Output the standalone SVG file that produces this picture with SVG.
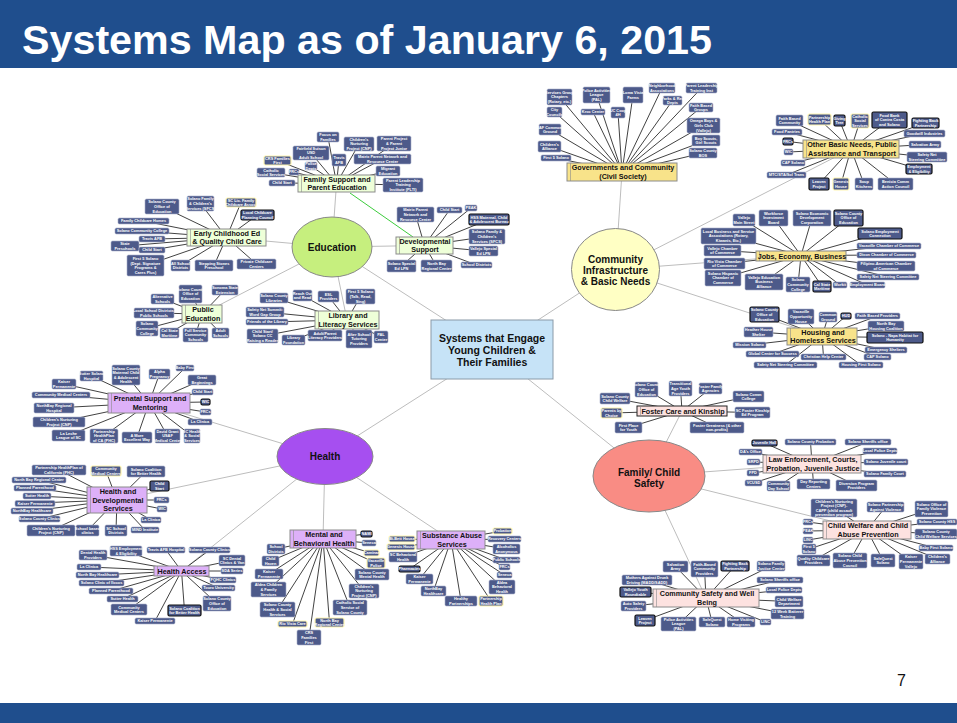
<svg xmlns="http://www.w3.org/2000/svg" width="957" height="723" viewBox="0 0 957 723">
<style>
.lf rect{fill:#4d5a8a;stroke:#a9b0c9;stroke-width:.6}
.lf text{fill:#fff;font-family:"Liberation Sans",Arial,sans-serif;font-weight:bold;font-size:3.9px;text-anchor:middle}
.hl rect{stroke:#fff6b0;stroke-width:1.2}
.bk rect{stroke:#111;stroke-width:1.2}
.hub rect{stroke:#8c8c8c;stroke-width:1}
.hub line{stroke:#8c8c8c;stroke-width:.6}
.hub text{fill:#111;font-family:"Liberation Sans",Arial,sans-serif;font-weight:bold;font-size:7.2px;text-anchor:middle}
.g rect{fill:#eeffd8}.y rect{fill:#f8e38a}.p rect{fill:#ddb0f8}.k rect{fill:#fde2e0}
.big ellipse{stroke:#888;stroke-width:1}
.big text,.ctr text{fill:#111;font-family:"Liberation Sans",Arial,sans-serif;font-weight:bold;font-size:10px;text-anchor:middle}
.ctr text{font-size:10.5px}
.c1{stroke:#bdbdbd;stroke-width:1;fill:none}
.c2{stroke:#111;stroke-width:.8;fill:none}
</style>
<rect x="0" y="0" width="957" height="723" fill="#fff"/>
<rect x="0" y="0" width="957" height="68" fill="#1f4e8d"/>
<text x="22" y="54" fill="#fff" font-family="Liberation Sans, Arial, sans-serif" font-weight="bold" font-size="41" textLength="690" lengthAdjust="spacingAndGlyphs">Systems Map as of January 6, 2015</text>
<rect x="0" y="703" width="957" height="20" fill="#1f4e8d"/>
<text x="897" y="686" fill="#111" font-family="Liberation Sans, Arial, sans-serif" font-size="16">7</text>

<g id="connectors">
<path class="c1" d="M492,350L332,247M492,350L615.5,269.5M492,350L325,456.5M492,350L649,476M332,247L336.5,183.5M332,247L226.5,237.5M332,247L424.5,245.5M332,247L202,314M332,247L347,320M615.5,269.5L622,172M615.5,269.5L851,149M615.5,269.5L801,255.5M615.5,269.5L822,336.5M325,456.5L149,403M325,456.5L117,500M325,456.5L181.5,571M325,456.5L323,539M325,456.5L451,540M649,476L682,411M649,476L812,464M649,476L867,530M649,476L706,598"/>
<path d="M350,193L413,237" stroke="#3dcc3d" stroke-width="1" fill="none"/>
<path class="c2" d="M328,137L336.5,183.5M359,144L336.5,183.5M394,143.5L336.5,183.5M311,153L336.5,183.5M339,160L336.5,183.5M382.5,159L336.5,183.5M311,166L336.5,183.5M277.5,160.5L336.5,183.5M271,172.5L336.5,183.5M294,172L336.5,183.5M282,183L336.5,183.5M388,171L336.5,183.5M403,185L336.5,183.5"/>
<path class="c2" d="M415.5,214.5L424.5,245.5M449.5,210L424.5,245.5M471,208L424.5,245.5M489,219.5L424.5,245.5M487,236.5L424.5,245.5M483.5,251L424.5,245.5M476.5,265L424.5,245.5M436.5,266L424.5,245.5M401.5,266L424.5,245.5"/>
<path class="c2" d="M162,206.5L226.5,237.5M200.5,203.5L226.5,237.5M241,202.5L226.5,237.5M257.5,215L226.5,237.5M143.5,221L226.5,237.5M142,231L226.5,237.5M152,239L226.5,237.5M125,246L226.5,237.5M152,250L226.5,237.5M145.5,265.5L226.5,237.5M180.5,265.5L226.5,237.5M214,265.5L226.5,237.5M256.5,264L226.5,237.5"/>
<path class="c2" d="M190.5,294L202,314M225,290L202,314M162.5,299L202,314M154,313L202,314M147,328.5L202,314M169.5,333L202,314M195.5,335L202,314M220.5,333L202,314"/>
<path class="c2" d="M274,298L347,320M302.5,295.5L347,320M328.5,296.5L347,320M360.5,296.5L347,320M265,312L347,320M267,322L347,320M262.5,336L347,320M293.5,340L347,320M325,335.5L347,320M359,339L347,320M381,337L347,320"/>
<path class="c2" d="M559.5,97L622,172M596.5,95L622,172M633,95L622,172M662,88L622,172M701.5,88L622,172M672.5,100.5L622,172M701,107.5L622,172M554.5,112L622,172M593,112L622,172M618,112.5L622,172M550,129.5L622,172M703.5,125.5L622,172M549.5,146.5L622,172M706,140.5L622,172M556,158L622,172M703,153L622,172"/>
<path class="c2" d="M789.5,120.5L851,149M819.5,119.5L851,149M839.5,120.5L851,149M860,121L851,149M889.5,120L851,149M925.5,123L851,149M787,132L851,149M924.5,133.5L851,149M788,141.5L851,149M788.5,152L851,149M925,144.5L851,149M927,157L851,149M793,163L851,149M786.5,175L851,149M919,169L851,149M819,184L851,149M841,184L851,149M864,184L851,149M895.5,184L851,149"/>
<path class="c2" d="M744,220L801,255.5M773.5,218L801,255.5M812,218L801,255.5M848.5,218L801,255.5M728.5,236L801,255.5M880,233.5L801,255.5M722.5,250.5L801,255.5M889,246L801,255.5M886.5,255L801,255.5M724.5,263.5L801,255.5M886,266L801,255.5M723,278L801,255.5M764,282L801,255.5M798,284.5L801,255.5M822,286.5L801,255.5M840,285L801,255.5M867.5,285L801,255.5M888,277L801,255.5"/>
<path class="c2" d="M764.5,314.5L822,336.5M801,316.5L822,336.5M828,317L822,336.5M846,316L822,336.5M877.5,316L822,336.5M886,326L822,336.5M758.5,332L822,336.5M895,337.5L822,336.5M749.5,345L822,336.5M886,350L822,336.5M772.5,354L822,336.5M823.5,357L822,336.5M877.5,357L822,336.5M785.5,365L822,336.5M861,365L822,336.5"/>
<path class="c2" d="M64,384L149,403M91.5,376L149,403M126,375L149,403M159.5,374L149,403M185,368L149,403M202,380L149,403M202.5,392L149,403M205.5,402L149,403M205.5,412L149,403M200,422L149,403M61,395L149,403M54,408L149,403M59,422L149,403M68.5,435.5L149,403M104,436L149,403M137,437.5L149,403M167.5,436L149,403M192,436L149,403"/>
<path class="c2" d="M59,470L117,500M106,471L117,500M146,471.5L117,500M39,480L117,500M35,488L117,500M37,496L117,500M35,503L117,500M32,511L117,500M39.5,519L117,500M159.5,486L117,500M161.5,500L117,500M162,509L117,500M151,520L117,500M51,530.5L117,500M87.5,530.5L117,500M116,530.5L117,500M145,530L117,500"/>
<path class="c2" d="M93,555L181.5,571M126,551L181.5,571M166,550L181.5,571M209.5,550L181.5,571M232,560.5L181.5,571M89,567L181.5,571M97.5,575L181.5,571M232,571L181.5,571M223,580L181.5,571M101.5,583L181.5,571M111,591L181.5,571M218.5,588L181.5,571M122.5,599L181.5,571M129,609.5L181.5,571M184.5,610.5L181.5,571M217,603.5L181.5,571M155,621L181.5,571"/>
<path class="c2" d="M366.5,534L323,539M369,543L323,539M371.5,553L323,539M376,563L323,539M372,574.5L323,539M364,591L323,539M350,607.5L323,539M329.5,622.5L323,539M309,637.5L323,539M292.5,624L323,539M276,549L323,539M270.5,561L323,539M269,574L323,539M268.5,589.5L323,539M277.5,609.5L323,539"/>
<path class="c2" d="M402,539L451,540M401,547L451,540M403,557L451,540M409.5,569L451,540M419.5,579L451,540M433.5,591L451,540M461,601L451,540M491,601L451,540M502,587L451,540M504.5,575L451,540M504.5,567L451,540M506.5,560L451,540M506.5,549L451,540M504.5,539L451,540M502.5,531L451,540"/>
<path class="c2" d="M615,398.5L682,411M646.5,389.5L682,411M680.5,388.5L682,411M710.5,388.5L682,411M748.5,396.5L682,411M611.5,413L682,411M752.5,412.5L682,411M628.5,427.5L682,411M717,427.5L682,411"/>
<path class="c2" d="M764.5,443L812,464M810.5,442L812,464M868,442L812,464M880,451L812,464M886,462L812,464M885,474L812,464M750.5,452L812,464M753.5,462L812,464M753,473L812,464M753.5,483L812,464M778.5,486L812,464M813.5,484L812,464M856.5,485.5L812,464"/>
<path class="c2" d="M834,508L867,530M885.5,507L867,530M931.5,509L867,530M808,522L867,530M808,531L867,530M808,540L867,530M809,549L867,530M937,522L867,530M936.5,534L867,530M936,548L867,530M813.5,560.5L867,530M850,560.5L867,530M883,560.5L867,530M911,561.5L867,530M937.5,559L867,530"/>
<path class="c2" d="M675.5,566.5L706,598M704.5,569L706,598M735,566L706,598M771,566L706,598M647,580L706,598M780,580L706,598M784,590L706,598M635.5,592L706,598M789,601.5L706,598M633.5,606L706,598M787.5,614L706,598M645,620.5L706,598M678.5,624L706,598M712,622L706,598M741,622L706,598M765.5,622L706,598"/>
</g>

<g id="center" class="ctr"><rect x="431" y="320" width="122" height="59" fill="#c6e3f7" stroke="#8a9aa8" stroke-width="1"/><text x="492" y="342">Systems that Engage<tspan x="492" dy="12">Young Children &amp;</tspan><tspan x="492" dy="12">Their Families</tspan></text></g>
<g id="education" class="big"><ellipse cx="332" cy="247" rx="40" ry="30" fill="#c6ef7e"/><text x="332" y="250.5">Education</text></g>
<g id="community" class="big"><ellipse cx="615.5" cy="269.5" rx="44" ry="41" fill="#ffffc4"/><text x="615.5" y="262.5">Community<tspan x="615.5" dy="11">Infrastructure</tspan><tspan x="615.5" dy="11">&amp; Basic Needs</tspan></text></g>
<g id="health" class="big"><ellipse cx="325" cy="456.5" rx="48" ry="28" fill="#a64ff0"/><text x="325" y="460">Health</text></g>
<g id="family" class="big"><ellipse cx="649" cy="476" rx="56" ry="36" fill="#f98c84"/><text x="649" y="475.5">Family/ Child<tspan x="649" dy="11">Safety</tspan></text></g>

<g id="hub-fs" class="hub g"><rect x="298" y="175" width="77" height="17"/><line x1="301.5" y1="175" x2="301.5" y2="192"/><text x="337" y="181.9">Family Support and<tspan x="337" dy="8.2">Parent Education</tspan></text></g>
<g id="hub-ds" class="hub g"><rect x="396" y="237" width="57" height="17"/><line x1="399.5" y1="237" x2="399.5" y2="254"/><text x="425" y="243.9">Developmental<tspan x="425" dy="8.2">Support</tspan></text></g>
<g id="hub-ec" class="hub g"><rect x="187" y="229" width="79" height="17"/><line x1="190.5" y1="229" x2="190.5" y2="246"/><text x="227" y="235.9">Early Childhood Ed<tspan x="227" dy="8.2">&amp; Quality Child Care</tspan></text></g>
<g id="hub-pe" class="hub g"><rect x="182" y="305" width="40" height="18"/><line x1="185.5" y1="305" x2="185.5" y2="323"/><text x="203" y="312.4">Public<tspan x="203" dy="8.2">Education</tspan></text></g>
<g id="hub-ll" class="hub g"><rect x="315" y="311" width="64" height="18"/><line x1="318.5" y1="311" x2="318.5" y2="329"/><text x="348" y="318.4">Library and<tspan x="348" dy="8.2">Literacy Services</tspan></text></g>
<g id="hub-gc" class="hub y"><rect x="567" y="163" width="110" height="18"/><line x1="570.5" y1="163" x2="570.5" y2="181"/><text x="623" y="170.4">Governments and Community<tspan x="623" dy="8.2">(Civil Society)</tspan></text></g>
<g id="hub-ob" class="hub y"><rect x="803" y="140" width="96" height="18"/><line x1="806.5" y1="140" x2="806.5" y2="158"/><text x="852" y="147.4">Other Basic Needs, Public<tspan x="852" dy="8.2">Assistance and Transport</tspan></text></g>
<g id="hub-je" class="hub y"><rect x="756" y="251" width="90" height="10"/><line x1="759.5" y1="251" x2="759.5" y2="261"/><text x="802" y="258.6">Jobs, Economy, Business</text></g>
<g id="hub-hh" class="hub y"><rect x="787" y="328" width="70" height="17"/><line x1="790.5" y1="328" x2="790.5" y2="345"/><text x="823" y="334.9">Housing and<tspan x="823" dy="8.2">Homeless Services</tspan></text></g>
<g id="hub-ps" class="hub p"><rect x="108" y="393" width="82" height="20"/><line x1="111.5" y1="393" x2="111.5" y2="413"/><text x="150" y="401.4">Prenatal Support and<tspan x="150" dy="8.2">Mentoring</tspan></text></g>
<g id="hub-hd" class="hub p"><rect x="87" y="487" width="60" height="26"/><line x1="90.5" y1="487" x2="90.5" y2="513"/><text x="118" y="494.3">Health and<tspan x="118" dy="8.2">Developmental</tspan><tspan x="118" dy="8.2">Services</tspan></text></g>
<g id="hub-ha" class="hub p"><rect x="154" y="566" width="55" height="10"/><line x1="157.5" y1="566" x2="157.5" y2="576"/><text x="182" y="573.6">Health Access</text></g>
<g id="hub-mb" class="hub p"><rect x="290" y="530" width="66" height="18"/><line x1="293.5" y1="530" x2="293.5" y2="548"/><text x="324" y="537.4">Mental and<tspan x="324" dy="8.2">Behavioral Health</tspan></text></g>
<g id="hub-sa" class="hub p"><rect x="417" y="531" width="68" height="18"/><line x1="420.5" y1="531" x2="420.5" y2="549"/><text x="452" y="538.4">Substance Abuse<tspan x="452" dy="8.2">Services</tspan></text></g>
<g id="hub-fc" class="hub k"><rect x="637" y="406" width="90" height="10" style="stroke:#222"/><line x1="640.5" y1="406" x2="640.5" y2="416"/><text x="683" y="413.6">Foster Care and Kinship</text></g>
<g id="hub-le" class="hub k"><rect x="763" y="455" width="98" height="18"/><line x1="766.5" y1="455" x2="766.5" y2="473"/><text x="813" y="462.4">Law Enforcement, Courts,<tspan x="813" dy="8.2">Probation, Juvenile Justice</tspan></text></g>
<g id="hub-cw" class="hub k"><rect x="823" y="521" width="88" height="18"/><line x1="826.5" y1="521" x2="826.5" y2="539"/><text x="868" y="528.4">Child Welfare and Child<tspan x="868" dy="8.2">Abuse Prevention</tspan></text></g>
<g id="hub-cs" class="hub k"><rect x="653" y="589" width="106" height="18"/><line x1="656.5" y1="589" x2="656.5" y2="607"/><text x="707" y="596.4">Community Safety and Well<tspan x="707" dy="8.2">Being</tspan></text></g>

<g id="fs-1" class="lf"><rect x="317" y="132" width="22" height="10" rx="1.5"/><text x="328" y="136.1">Focus on<tspan x="328" dy="4.6">Families</tspan></text></g>
<g id="fs-2" class="lf"><rect x="344" y="137" width="30" height="14" rx="1.5"/><text x="359" y="140.8">Children's<tspan x="359" dy="4.6">Nurturing</tspan><tspan x="359" dy="4.6">Project (CNP)</tspan></text></g>
<g id="fs-3" class="lf"><rect x="377" y="136" width="34" height="15" rx="1.5"/><text x="394" y="140.3">Parent Project<tspan x="394" dy="4.6">&amp; Parent</tspan><tspan x="394" dy="4.6">Project Junior</tspan></text></g>
<g id="fs-4" class="lf"><rect x="293" y="146" width="36" height="14" rx="1.5"/><text x="311" y="149.8">Fairfield Suisun<tspan x="311" dy="4.6">USD</tspan><tspan x="311" dy="4.6">Adult School</tspan></text></g>
<g id="fs-5" class="lf"><rect x="332" y="154" width="14" height="12" rx="1.5"/><text x="339" y="159.1">Travis<tspan x="339" dy="4.6">AFB</tspan></text></g>
<g id="fs-6" class="lf"><rect x="354" y="154" width="57" height="10" rx="1.5"/><text x="382.5" y="158.1">Matrix Parent Network and<tspan x="382.5" dy="4.6">Resource Center</tspan></text></g>
<g id="fs-7" class="lf"><rect x="305" y="162" width="12" height="8" rx="1.5"/><text x="311" y="165.1">Police<tspan x="311" dy="4.6">Depts</tspan></text></g>
<g id="fs-8" class="lf hl"><rect x="264" y="156" width="27" height="9" rx="1.5"/><text x="277.5" y="159.6">CRS Families<tspan x="277.5" dy="4.6">First</tspan></text></g>
<g id="fs-9" class="lf"><rect x="257" y="168" width="28" height="9" rx="1.5"/><text x="271" y="171.6">Catholic<tspan x="271" dy="4.6">Social Services</tspan></text></g>
<g id="fs-10" class="lf"><rect x="289" y="169" width="10" height="6" rx="1.5"/><text x="294" y="173.4">FRCs</text></g>
<g id="fs-11" class="lf"><rect x="269" y="180" width="26" height="6" rx="1.5"/><text x="282" y="184.4">Child Start</text></g>
<g id="fs-12" class="lf"><rect x="376" y="166" width="24" height="10" rx="1.5"/><text x="388" y="170.1">Migrant<tspan x="388" dy="4.6">Education</tspan></text></g>
<g id="fs-13" class="lf"><rect x="383" y="178" width="40" height="14" rx="1.5"/><text x="403" y="181.8">Parent Leadership<tspan x="403" dy="4.6">Training</tspan><tspan x="403" dy="4.6">Institute (PLTI)</tspan></text></g>

<g id="ds-1" class="lf"><rect x="397" y="207" width="37" height="15" rx="1.5"/><text x="415.5" y="211.3">Matrix Parent<tspan x="415.5" dy="4.6">Network and</tspan><tspan x="415.5" dy="4.6">Resource Center</tspan></text></g>
<g id="ds-2" class="lf"><rect x="437" y="207" width="25" height="6" rx="1.5"/><text x="449.5" y="211.4">Child Start</text></g>
<g id="ds-3" class="lf"><rect x="465" y="205" width="12" height="6" rx="1.5"/><text x="471" y="209.4">PEAK</text></g>
<g id="ds-4" class="lf bk"><rect x="469" y="214" width="40" height="11" rx="1.5"/><text x="489" y="218.6">HSS Maternal, Child<tspan x="489" dy="4.6">&amp; Adolescent Bureau</tspan></text></g>
<g id="ds-5" class="lf"><rect x="469" y="229" width="36" height="15" rx="1.5"/><text x="487" y="233.3">Solano Family &amp;<tspan x="487" dy="4.6">Children's</tspan><tspan x="487" dy="4.6">Services (SFCS)</tspan></text></g>
<g id="ds-6" class="lf"><rect x="469" y="246" width="29" height="10" rx="1.5"/><text x="483.5" y="250.1">Vallejo Special<tspan x="483.5" dy="4.6">Ed LPN</tspan></text></g>
<g id="ds-7" class="lf"><rect x="461" y="262" width="31" height="6" rx="1.5"/><text x="476.5" y="266.4">School Districts</text></g>
<g id="ds-8" class="lf"><rect x="421" y="260" width="31" height="12" rx="1.5"/><text x="436.5" y="265.1">North Bay<tspan x="436.5" dy="4.6">Regional Center</tspan></text></g>
<g id="ds-9" class="lf"><rect x="387" y="260" width="29" height="12" rx="1.5"/><text x="401.5" y="265.1">Solano Special<tspan x="401.5" dy="4.6">Ed LPN</tspan></text></g>

<g id="ec-1" class="lf"><rect x="145" y="199" width="34" height="15" rx="1.5"/><text x="162" y="203.3">Solano County<tspan x="162" dy="4.6">Office of</tspan><tspan x="162" dy="4.6">Education</tspan></text></g>
<g id="ec-2" class="lf"><rect x="187" y="196" width="27" height="15" rx="1.5"/><text x="200.5" y="200.3">Solano Family<tspan x="200.5" dy="4.6">&amp; Children's</tspan><tspan x="200.5" dy="4.6">Services (SFCS)</tspan></text></g>
<g id="ec-3" class="lf hl"><rect x="226" y="198" width="30" height="9" rx="1.5"/><text x="241" y="201.6">SC Lic. Family<tspan x="241" dy="4.6">Childcare Assoc.</tspan></text></g>
<g id="ec-4" class="lf bk"><rect x="241" y="210" width="33" height="10" rx="1.5"/><text x="257.5" y="214.1">Local Childcare<tspan x="257.5" dy="4.6">Planning Council</tspan></text></g>
<g id="ec-5" class="lf"><rect x="118" y="218" width="51" height="6" rx="1.5"/><text x="143.5" y="222.4">Family Childcare Homes</text></g>
<g id="ec-6" class="lf"><rect x="115" y="228" width="54" height="6" rx="1.5"/><text x="142" y="232.4">Solano Community College</text></g>
<g id="ec-7" class="lf"><rect x="139" y="236" width="26" height="6" rx="1.5"/><text x="152" y="240.4">Travis AFB</text></g>
<g id="ec-8" class="lf"><rect x="111" y="241" width="28" height="10" rx="1.5"/><text x="125" y="245.1">State<tspan x="125" dy="4.6">Preschools</tspan></text></g>
<g id="ec-9" class="lf"><rect x="139" y="247" width="26" height="6" rx="1.5"/><text x="152" y="251.4">Child Start</text></g>
<g id="ec-10" class="lf"><rect x="127" y="255" width="37" height="21" rx="1.5"/><text x="145.5" y="260">First 5 Solano<tspan x="145.5" dy="4.6">(Dept. Signature</tspan><tspan x="145.5" dy="4.6">Programs &amp;</tspan><tspan x="145.5" dy="4.6">Cares Plus)</tspan></text></g>
<g id="ec-11" class="lf"><rect x="171" y="260" width="19" height="11" rx="1.5"/><text x="180.5" y="264.6">All School<tspan x="180.5" dy="4.6">Districts</tspan></text></g>
<g id="ec-12" class="lf"><rect x="195" y="260" width="38" height="11" rx="1.5"/><text x="214" y="264.6">Stepping Stones<tspan x="214" dy="4.6">Preschool</tspan></text></g>
<g id="ec-13" class="lf"><rect x="237" y="259" width="39" height="10" rx="1.5"/><text x="256.5" y="263.1">Private Childcare<tspan x="256.5" dy="4.6">Centers</tspan></text></g>

<g id="pe-1" class="lf"><rect x="179" y="285" width="23" height="18" rx="1.5"/><text x="190.5" y="290.8">Solano County<tspan x="190.5" dy="4.6">Office of</tspan><tspan x="190.5" dy="4.6">Education</tspan></text></g>
<g id="pe-2" class="lf"><rect x="212" y="285" width="26" height="10" rx="1.5"/><text x="225" y="289.1">Sonoma State<tspan x="225" dy="4.6">Extension</tspan></text></g>
<g id="pe-3" class="lf"><rect x="151" y="294" width="23" height="10" rx="1.5"/><text x="162.5" y="298.1">Alternative<tspan x="162.5" dy="4.6">Schools</tspan></text></g>
<g id="pe-4" class="lf"><rect x="134" y="308" width="40" height="10" rx="1.5"/><text x="154" y="312.1">Local School Districts:<tspan x="154" dy="4.6">Public Schools</tspan></text></g>
<g id="pe-5" class="lf"><rect x="136" y="321" width="22" height="15" rx="1.5"/><text x="147" y="325.3">Solano<tspan x="147" dy="4.6">Community</tspan><tspan x="147" dy="4.6">College</tspan></text></g>
<g id="pe-6" class="lf"><rect x="160" y="328" width="19" height="10" rx="1.5"/><text x="169.5" y="332.1">Cal State<tspan x="169.5" dy="4.6">Maritime</tspan></text></g>
<g id="pe-7" class="lf"><rect x="183" y="328" width="25" height="14" rx="1.5"/><text x="195.5" y="331.8">Full Service<tspan x="195.5" dy="4.6">Community</tspan><tspan x="195.5" dy="4.6">Schools</tspan></text></g>
<g id="pe-8" class="lf"><rect x="212" y="328" width="17" height="10" rx="1.5"/><text x="220.5" y="332.1">Adult<tspan x="220.5" dy="4.6">Schools</tspan></text></g>

<g id="ll-1" class="lf"><rect x="260" y="293" width="28" height="10" rx="1.5"/><text x="274" y="297.1">Solano County<tspan x="274" dy="4.6">Libraries</tspan></text></g>
<g id="ll-2" class="lf"><rect x="293" y="290" width="19" height="11" rx="1.5"/><text x="302.5" y="294.6">Reach Out<tspan x="302.5" dy="4.6">and Read</tspan></text></g>
<g id="ll-3" class="lf"><rect x="318" y="291" width="21" height="11" rx="1.5"/><text x="328.5" y="295.6">ESL<tspan x="328.5" dy="4.6">Providers</tspan></text></g>
<g id="ll-4" class="lf"><rect x="346" y="289" width="29" height="15" rx="1.5"/><text x="360.5" y="293.3">First 5 Solano<tspan x="360.5" dy="4.6">(Talk, Read,</tspan><tspan x="360.5" dy="4.6">Sing)</tspan></text></g>
<g id="ll-5" class="lf"><rect x="246" y="307" width="38" height="10" rx="1.5"/><text x="265" y="311.1">Safety Net Summit:<tspan x="265" dy="4.6">Word Gap Group</tspan></text></g>
<g id="ll-6" class="lf"><rect x="246" y="319" width="42" height="6" rx="1.5"/><text x="267" y="323.4">Friends of the Library</text></g>
<g id="ll-7" class="lf"><rect x="247" y="329" width="31" height="14" rx="1.5"/><text x="262.5" y="332.8">Child Start/<tspan x="262.5" dy="4.6">Solano CC</tspan><tspan x="262.5" dy="4.6">Raising a Reader</tspan></text></g>
<g id="ll-8" class="lf"><rect x="282" y="335" width="23" height="10" rx="1.5"/><text x="293.5" y="339.1">Library<tspan x="293.5" dy="4.6">Foundation</tspan></text></g>
<g id="ll-9" class="lf"><rect x="308" y="330" width="34" height="11" rx="1.5"/><text x="325" y="334.6">Adult/Parent<tspan x="325" dy="4.6">Literacy Providers</tspan></text></g>
<g id="ll-10" class="lf"><rect x="346" y="330" width="26" height="18" rx="1.5"/><text x="359" y="335.8">After School<tspan x="359" dy="4.6">Tutoring</tspan><tspan x="359" dy="4.6">Providers</tspan></text></g>
<g id="ll-11" class="lf"><rect x="374" y="331" width="14" height="12" rx="1.5"/><text x="381" y="336.1">PAL<tspan x="381" dy="4.6">Center</tspan></text></g>

<g id="gc-1" class="lf"><rect x="547" y="89" width="25" height="16" rx="1.5"/><text x="559.5" y="93.8">Services Group<tspan x="559.5" dy="4.6">Chapters</tspan><tspan x="559.5" dy="4.6">(Rotary, etc.)</tspan></text></g>
<g id="gc-2" class="lf"><rect x="583" y="87" width="27" height="16" rx="1.5"/><text x="596.5" y="91.8">Police Activities<tspan x="596.5" dy="4.6">League</tspan><tspan x="596.5" dy="4.6">(PAL)</tspan></text></g>
<g id="gc-3" class="lf"><rect x="623" y="87" width="20" height="16" rx="1.5"/><text x="633" y="94.1">Loma Vista<tspan x="633" dy="4.6">Farms</tspan></text></g>
<g id="gc-4" class="lf"><rect x="649" y="83" width="26" height="10" rx="1.5"/><text x="662" y="87.1">Neighborhood<tspan x="662" dy="4.6">Associations</tspan></text></g>
<g id="gc-5" class="lf"><rect x="686" y="83" width="31" height="10" rx="1.5"/><text x="701.5" y="87.1">Parent Leadership<tspan x="701.5" dy="4.6">Training Inst</tspan></text></g>
<g id="gc-6" class="lf"><rect x="663" y="96" width="19" height="9" rx="1.5"/><text x="672.5" y="99.6">Parks &amp; Rec<tspan x="672.5" dy="4.6">Depts</tspan></text></g>
<g id="gc-7" class="lf"><rect x="689" y="103" width="24" height="9" rx="1.5"/><text x="701" y="106.6">Faith Based<tspan x="701" dy="4.6">Groups</tspan></text></g>
<g id="gc-8" class="lf"><rect x="547" y="107" width="15" height="10" rx="1.5"/><text x="554.5" y="111.1">City<tspan x="554.5" dy="4.6">Councils</tspan></text></g>
<g id="gc-9" class="lf"><rect x="581" y="109" width="24" height="6" rx="1.5"/><text x="593" y="113.4">Kroc Center</text></g>
<g id="gc-10" class="lf"><rect x="611" y="107" width="14" height="11" rx="1.5"/><text x="618" y="111.6">UC Coop<tspan x="618" dy="4.6">4H</tspan></text></g>
<g id="gc-11" class="lf"><rect x="539" y="124" width="22" height="11" rx="1.5"/><text x="550" y="128.6">IAF Common<tspan x="550" dy="4.6">Ground</tspan></text></g>
<g id="gc-12" class="lf"><rect x="687" y="118" width="33" height="15" rx="1.5"/><text x="703.5" y="122.3">Omega Boys &amp;<tspan x="703.5" dy="4.6">Girls Club</tspan><tspan x="703.5" dy="4.6">(Vallejo)</tspan></text></g>
<g id="gc-13" class="lf"><rect x="538" y="141" width="23" height="11" rx="1.5"/><text x="549.5" y="145.6">Children's<tspan x="549.5" dy="4.6">Alliance</tspan></text></g>
<g id="gc-14" class="lf"><rect x="692" y="135" width="28" height="11" rx="1.5"/><text x="706" y="139.6">Boy Scouts,<tspan x="706" dy="4.6">Girl Scouts</tspan></text></g>
<g id="gc-15" class="lf"><rect x="541" y="155" width="30" height="6" rx="1.5"/><text x="556" y="159.4">First 5 Solano</text></g>
<g id="gc-16" class="lf"><rect x="689" y="148" width="28" height="10" rx="1.5"/><text x="703" y="152.1">Solano County<tspan x="703" dy="4.6">BOS</tspan></text></g>

<g id="ob-1" class="lf"><rect x="776" y="115" width="27" height="11" rx="1.5"/><text x="789.5" y="119.6">Faith Based<tspan x="789.5" dy="4.6">Community</tspan></text></g>
<g id="ob-2" class="lf hl"><rect x="808" y="114" width="23" height="11" rx="1.5"/><text x="819.5" y="118.6">Partnership<tspan x="819.5" dy="4.6">Health Plan</tspan></text></g>
<g id="ob-3" class="lf bk"><rect x="834" y="115" width="11" height="11" rx="1.5"/><text x="839.5" y="119.6">Giving<tspan x="839.5" dy="4.6">Tree</tspan></text></g>
<g id="ob-4" class="lf hl"><rect x="851" y="114" width="18" height="14" rx="1.5"/><text x="860" y="117.8">Catholic<tspan x="860" dy="4.6">Social</tspan><tspan x="860" dy="4.6">Services</tspan></text></g>
<g id="ob-5" class="lf bk"><rect x="872" y="112" width="35" height="16" rx="1.5"/><text x="889.5" y="116.8">Food Bank<tspan x="889.5" dy="4.6">of Contra Costa</tspan><tspan x="889.5" dy="4.6">and Solano</tspan></text></g>
<g id="ob-6" class="lf bk"><rect x="912" y="118" width="27" height="10" rx="1.5"/><text x="925.5" y="122.1">Fighting Back<tspan x="925.5" dy="4.6">Partnership</tspan></text></g>
<g id="ob-7" class="lf"><rect x="772" y="129" width="30" height="6" rx="1.5"/><text x="787" y="133.4">Food Pantries</text></g>
<g id="ob-8" class="lf"><rect x="904" y="130" width="41" height="7" rx="1.5"/><text x="924.5" y="134.9">Goodwill Industries</text></g>
<g id="ob-9" class="lf bk"><rect x="783" y="138" width="10" height="7" rx="1.5"/><text x="788" y="142.9">FRCs</text></g>
<g id="ob-10" class="lf"><rect x="784" y="149" width="9" height="6" rx="1.5"/><text x="788.5" y="153.4">WIC</text></g>
<g id="ob-11" class="lf"><rect x="909" y="141" width="32" height="7" rx="1.5"/><text x="925" y="145.9">Salvation Army</text></g>
<g id="ob-12" class="lf"><rect x="907" y="152" width="40" height="10" rx="1.5"/><text x="927" y="156.1">Safety Net<tspan x="927" dy="4.6">Steering Committee</tspan></text></g>
<g id="ob-13" class="lf"><rect x="781" y="160" width="24" height="6" rx="1.5"/><text x="793" y="164.4">CAP Solano</text></g>
<g id="ob-14" class="lf"><rect x="767" y="172" width="39" height="6" rx="1.5"/><text x="786.5" y="176.4">MTC/STA/Sol Trans</text></g>
<g id="ob-15" class="lf bk"><rect x="906" y="164" width="26" height="10" rx="1.5"/><text x="919" y="168.1">Employment<tspan x="919" dy="4.6">&amp; Eligibility</tspan></text></g>
<g id="ob-16" class="lf bk"><rect x="809" y="178" width="20" height="12" rx="1.5"/><text x="819" y="183.1">Leaven<tspan x="819" dy="4.6">Project</tspan></text></g>
<g id="ob-17" class="lf hl"><rect x="833" y="178" width="16" height="12" rx="1.5"/><text x="841" y="183.1">Genesis<tspan x="841" dy="4.6">House</tspan></text></g>
<g id="ob-18" class="lf"><rect x="855" y="178" width="18" height="12" rx="1.5"/><text x="864" y="183.1">Soup<tspan x="864" dy="4.6">Kitchens</tspan></text></g>
<g id="ob-19" class="lf"><rect x="878" y="178" width="35" height="12" rx="1.5"/><text x="895.5" y="183.1">Benicia Comm<tspan x="895.5" dy="4.6">Action Council</tspan></text></g>

<g id="je-1" class="lf"><rect x="733" y="214" width="22" height="12" rx="1.5"/><text x="744" y="219.1">Vallejo<tspan x="744" dy="4.6">Main Street</tspan></text></g>
<g id="je-2" class="lf"><rect x="759" y="210" width="29" height="16" rx="1.5"/><text x="773.5" y="214.8">Workforce<tspan x="773.5" dy="4.6">Investment</tspan><tspan x="773.5" dy="4.6">Board</tspan></text></g>
<g id="je-3" class="lf"><rect x="793" y="210" width="38" height="16" rx="1.5"/><text x="812" y="214.8">Solano Economic<tspan x="812" dy="4.6">Development</tspan><tspan x="812" dy="4.6">Corporation</tspan></text></g>
<g id="je-4" class="lf bk"><rect x="834" y="210" width="29" height="16" rx="1.5"/><text x="848.5" y="214.8">Solano County<tspan x="848.5" dy="4.6">Office of</tspan><tspan x="848.5" dy="4.6">Education</tspan></text></g>
<g id="je-5" class="lf"><rect x="701" y="228" width="55" height="16" rx="1.5"/><text x="728.5" y="232.8">Local Business and Service<tspan x="728.5" dy="4.6">Associations (Rotary,</tspan><tspan x="728.5" dy="4.6">Kiwanis, Etc.)</tspan></text></g>
<g id="je-6" class="lf bk"><rect x="858" y="228" width="44" height="11" rx="1.5"/><text x="880" y="232.6">Solano Employment<tspan x="880" dy="4.6">Connection</tspan></text></g>
<g id="je-7" class="lf"><rect x="704" y="245" width="37" height="11" rx="1.5"/><text x="722.5" y="249.6">Vallejo Chamber<tspan x="722.5" dy="4.6">of Commerce</tspan></text></g>
<g id="je-8" class="lf"><rect x="857" y="243" width="64" height="6" rx="1.5"/><text x="889" y="247.4">Vacaville Chamber of Commerce</text></g>
<g id="je-9" class="lf"><rect x="857" y="252" width="59" height="6" rx="1.5"/><text x="886.5" y="256.4">Dixon Chamber of Commerce</text></g>
<g id="je-10" class="lf"><rect x="704" y="258" width="41" height="11" rx="1.5"/><text x="724.5" y="262.6">Rio Vista Chamber<tspan x="724.5" dy="4.6">of Commerce</tspan></text></g>
<g id="je-11" class="lf"><rect x="857" y="261" width="58" height="10" rx="1.5"/><text x="886" y="265.1">Filipino-American Chamber<tspan x="886" dy="4.6">of Commerce</tspan></text></g>
<g id="je-12" class="lf"><rect x="705" y="270" width="36" height="16" rx="1.5"/><text x="723" y="274.8">Solano Hispanic<tspan x="723" dy="4.6">Chamber of</tspan><tspan x="723" dy="4.6">Commerce</tspan></text></g>
<g id="je-13" class="lf"><rect x="745" y="274" width="38" height="16" rx="1.5"/><text x="764" y="278.8">Vallejo Education<tspan x="764" dy="4.6">Business</tspan><tspan x="764" dy="4.6">Alliance</tspan></text></g>
<g id="je-14" class="lf"><rect x="786" y="277" width="24" height="15" rx="1.5"/><text x="798" y="281.3">Solano<tspan x="798" dy="4.6">Community</tspan><tspan x="798" dy="4.6">College</tspan></text></g>
<g id="je-15" class="lf bk"><rect x="813" y="281" width="18" height="11" rx="1.5"/><text x="822" y="285.6">Cal State<tspan x="822" dy="4.6">Maritime</tspan></text></g>
<g id="je-16" class="lf"><rect x="833" y="282" width="14" height="6" rx="1.5"/><text x="840" y="286.4">Workit</text></g>
<g id="je-17" class="lf"><rect x="850" y="282" width="35" height="6" rx="1.5"/><text x="867.5" y="286.4">Employment Board</text></g>
<g id="je-18" class="lf"><rect x="857" y="274" width="62" height="6" rx="1.5"/><text x="888" y="278.4">Safety Net Steering Committee</text></g>

<g id="hh-1" class="lf bk"><rect x="750" y="307" width="29" height="15" rx="1.5"/><text x="764.5" y="311.3">Solano County<tspan x="764.5" dy="4.6">Office of</tspan><tspan x="764.5" dy="4.6">Education</tspan></text></g>
<g id="hh-2" class="lf"><rect x="788" y="309" width="26" height="15" rx="1.5"/><text x="801" y="313.3">Vacaville<tspan x="801" dy="4.6">Opportunity</tspan><tspan x="801" dy="4.6">House</tspan></text></g>
<g id="hh-3" class="lf"><rect x="819" y="312" width="18" height="10" rx="1.5"/><text x="828" y="316.1">Common<tspan x="828" dy="4.6">Ground</tspan></text></g>
<g id="hh-4" class="lf bk"><rect x="841" y="313" width="10" height="6" rx="1.5"/><text x="846" y="317.4">HUD</text></g>
<g id="hh-5" class="lf"><rect x="855" y="313" width="45" height="6" rx="1.5"/><text x="877.5" y="317.4">Faith Based Providers</text></g>
<g id="hh-6" class="lf"><rect x="868" y="321" width="36" height="10" rx="1.5"/><text x="886" y="325.1">North Bay<tspan x="886" dy="4.6">Housing Coalition</tspan></text></g>
<g id="hh-7" class="lf"><rect x="744" y="327" width="29" height="10" rx="1.5"/><text x="758.5" y="331.1">Heather House<tspan x="758.5" dy="4.6">Shelter</tspan></text></g>
<g id="hh-8" class="lf bk"><rect x="867" y="332" width="56" height="11" rx="1.5"/><text x="895" y="336.6">Solano - Napa Habitat for<tspan x="895" dy="4.6">Humanity</tspan></text></g>
<g id="hh-9" class="lf"><rect x="733" y="342" width="33" height="6" rx="1.5"/><text x="749.5" y="346.4">Mission Solano</text></g>
<g id="hh-10" class="lf"><rect x="865" y="347" width="42" height="6" rx="1.5"/><text x="886" y="351.4">Emergency Shelters</text></g>
<g id="hh-11" class="lf"><rect x="746" y="351" width="53" height="6" rx="1.5"/><text x="772.5" y="355.4">Global Center for Success</text></g>
<g id="hh-12" class="lf"><rect x="801" y="354" width="45" height="6" rx="1.5"/><text x="823.5" y="358.4">Christian Help Center</text></g>
<g id="hh-13" class="lf"><rect x="864" y="354" width="27" height="6" rx="1.5"/><text x="877.5" y="358.4">CAP Solano</text></g>
<g id="hh-14" class="lf"><rect x="754" y="362" width="63" height="6" rx="1.5"/><text x="785.5" y="366.4">Safety Net Steering Committee</text></g>
<g id="hh-15" class="lf"><rect x="839" y="362" width="44" height="6" rx="1.5"/><text x="861" y="366.4">Housing First Solano</text></g>

<g id="ps-1" class="lf"><rect x="52" y="379" width="24" height="10" rx="1.5"/><text x="64" y="383.1">Kaiser<tspan x="64" dy="4.6">Permanente</tspan></text></g>
<g id="ps-2" class="lf"><rect x="80" y="371" width="23" height="10" rx="1.5"/><text x="91.5" y="375.1">Sutter Solano<tspan x="91.5" dy="4.6">Hospital</tspan></text></g>
<g id="ps-3" class="lf"><rect x="112" y="365" width="28" height="20" rx="1.5"/><text x="126" y="369.5">Solano County<tspan x="126" dy="4.6">Maternal Child</tspan><tspan x="126" dy="4.6">&amp; Adolescent</tspan><tspan x="126" dy="4.6">Health</tspan></text></g>
<g id="ps-4" class="lf"><rect x="149" y="369" width="21" height="10" rx="1.5"/><text x="159.5" y="373.1">Alpha<tspan x="159.5" dy="4.6">Pregnancy</tspan></text></g>
<g id="ps-5" class="lf"><rect x="176" y="365" width="18" height="6" rx="1.5"/><text x="185" y="369.4">Baby First</text></g>
<g id="ps-6" class="lf"><rect x="188" y="375" width="28" height="10" rx="1.5"/><text x="202" y="379.1">Great<tspan x="202" dy="4.6">Beginnings</tspan></text></g>
<g id="ps-7" class="lf"><rect x="192" y="389" width="21" height="6" rx="1.5"/><text x="202.5" y="393.4">Child Start</text></g>
<g id="ps-8" class="lf bk"><rect x="201" y="399" width="9" height="6" rx="1.5"/><text x="205.5" y="403.4">WIC</text></g>
<g id="ps-9" class="lf"><rect x="200" y="409" width="11" height="6" rx="1.5"/><text x="205.5" y="413.4">FRCs</text></g>
<g id="ps-10" class="lf"><rect x="188" y="419" width="24" height="6" rx="1.5"/><text x="200" y="423.4">La Clinica</text></g>
<g id="ps-11" class="lf"><rect x="32" y="392" width="58" height="6" rx="1.5"/><text x="61" y="396.4">Community Medical Centers</text></g>
<g id="ps-12" class="lf"><rect x="34" y="403" width="40" height="10" rx="1.5"/><text x="54" y="407.1">NorthBay Regional<tspan x="54" dy="4.6">Hospital</tspan></text></g>
<g id="ps-13" class="lf"><rect x="33" y="417" width="52" height="10" rx="1.5"/><text x="59" y="421.1">Children's Nurturing<tspan x="59" dy="4.6">Project (CNP)</tspan></text></g>
<g id="ps-14" class="lf"><rect x="52" y="430" width="33" height="11" rx="1.5"/><text x="68.5" y="434.6">La Leche<tspan x="68.5" dy="4.6">League of SC</tspan></text></g>
<g id="ps-15" class="lf"><rect x="90" y="429" width="28" height="14" rx="1.5"/><text x="104" y="432.8">Partnership<tspan x="104" dy="4.6">HealthPlan</tspan><tspan x="104" dy="4.6">of CA (PHC)</tspan></text></g>
<g id="ps-16" class="lf"><rect x="122" y="432" width="30" height="11" rx="1.5"/><text x="137" y="436.6">A More<tspan x="137" dy="4.6">Excellent Way</tspan></text></g>
<g id="ps-17" class="lf"><rect x="155" y="429" width="25" height="14" rx="1.5"/><text x="167.5" y="432.8">David Grant<tspan x="167.5" dy="4.6">USAF</tspan><tspan x="167.5" dy="4.6">Medical Center</tspan></text></g>
<g id="ps-18" class="lf"><rect x="184" y="429" width="16" height="14" rx="1.5"/><text x="192" y="432.8">SC Health<tspan x="192" dy="4.6">&amp; Social</tspan><tspan x="192" dy="4.6">Services</tspan></text></g>

<g id="hd-1" class="lf"><rect x="32" y="465" width="54" height="10" rx="1.5"/><text x="59" y="469.1">Partnership HealthPlan of<tspan x="59" dy="4.6">California (PHC)</tspan></text></g>
<g id="hd-2" class="lf hl"><rect x="91" y="466" width="30" height="10" rx="1.5"/><text x="106" y="470.1">Community<tspan x="106" dy="4.6">Medical Centers</tspan></text></g>
<g id="hd-3" class="lf"><rect x="127" y="466" width="38" height="11" rx="1.5"/><text x="146" y="470.6">Solano Coalition<tspan x="146" dy="4.6">for Better Health</tspan></text></g>
<g id="hd-4" class="lf"><rect x="12" y="477" width="54" height="6" rx="1.5"/><text x="39" y="481.4">North Bay Regional Center</text></g>
<g id="hd-5" class="lf"><rect x="14" y="485" width="42" height="6" rx="1.5"/><text x="35" y="489.4">Planned Parenthood</text></g>
<g id="hd-6" class="lf"><rect x="23" y="493" width="28" height="6" rx="1.5"/><text x="37" y="497.4">Sutter Health</text></g>
<g id="hd-7" class="lf"><rect x="15" y="500.5" width="40" height="6" rx="1.5"/><text x="35" y="504.9">Kaiser Permanente</text></g>
<g id="hd-8" class="lf"><rect x="11" y="508" width="42" height="6" rx="1.5"/><text x="32" y="512.4">NorthBay Healthcare</text></g>
<g id="hd-9" class="lf"><rect x="19" y="516" width="41" height="6" rx="1.5"/><text x="39.5" y="520.4">Solano County Clinics</text></g>
<g id="hd-10" class="lf bk"><rect x="150" y="481" width="19" height="10" rx="1.5"/><text x="159.5" y="485.1">Child<tspan x="159.5" dy="4.6">Start</tspan></text></g>
<g id="hd-11" class="lf"><rect x="154" y="497" width="15" height="6" rx="1.5"/><text x="161.5" y="501.4">FRCs</text></g>
<g id="hd-12" class="lf"><rect x="157" y="506" width="10" height="6" rx="1.5"/><text x="162" y="510.4">WIC</text></g>
<g id="hd-13" class="lf"><rect x="141" y="517" width="20" height="6" rx="1.5"/><text x="151" y="521.4">La Clinica</text></g>
<g id="hd-14" class="lf"><rect x="27" y="525" width="48" height="11" rx="1.5"/><text x="51" y="529.6">Children's Nurturing<tspan x="51" dy="4.6">Project (CNP)</tspan></text></g>
<g id="hd-15" class="lf"><rect x="76" y="525" width="23" height="11" rx="1.5"/><text x="87.5" y="529.6">School based<tspan x="87.5" dy="4.6">clinics</tspan></text></g>
<g id="hd-16" class="lf"><rect x="105" y="525" width="22" height="11" rx="1.5"/><text x="116" y="529.6">SC School<tspan x="116" dy="4.6">Districts</tspan></text></g>
<g id="hd-17" class="lf"><rect x="131" y="527" width="28" height="6" rx="1.5"/><text x="145" y="531.4">MIND Institute</text></g>

<g id="ha-1" class="lf"><rect x="79" y="550" width="28" height="10" rx="1.5"/><text x="93" y="554.1">Dental Health<tspan x="93" dy="4.6">Providers</tspan></text></g>
<g id="ha-2" class="lf"><rect x="110" y="546" width="32" height="10" rx="1.5"/><text x="126" y="550.1">HSS Employment<tspan x="126" dy="4.6">&amp; Eligibility</tspan></text></g>
<g id="ha-3" class="lf"><rect x="147" y="547" width="38" height="6" rx="1.5"/><text x="166" y="551.4">Travis AFB Hospital</text></g>
<g id="ha-4" class="lf"><rect x="189" y="547" width="41" height="6" rx="1.5"/><text x="209.5" y="551.4">Solano County Clinics</text></g>
<g id="ha-5" class="lf"><rect x="219" y="555" width="26" height="11" rx="1.5"/><text x="232" y="559.6">SC Dental<tspan x="232" dy="4.6">Clinics &amp; Van</tspan></text></g>
<g id="ha-6" class="lf"><rect x="77" y="564" width="24" height="6" rx="1.5"/><text x="89" y="568.4">La Clinica</text></g>
<g id="ha-7" class="lf"><rect x="76" y="572" width="43" height="6" rx="1.5"/><text x="97.5" y="576.4">North Bay Healthcare</text></g>
<g id="ha-8" class="lf"><rect x="221" y="568" width="22" height="6" rx="1.5"/><text x="232" y="572.4">SDA Series</text></g>
<g id="ha-9" class="lf"><rect x="210" y="577" width="26" height="6" rx="1.5"/><text x="223" y="581.4">FQHC Clinics</text></g>
<g id="ha-10" class="lf"><rect x="79" y="580" width="45" height="6" rx="1.5"/><text x="101.5" y="584.4">Solano Clinic of Ilocos</text></g>
<g id="ha-11" class="lf"><rect x="89" y="588" width="44" height="6" rx="1.5"/><text x="111" y="592.4">Planned Parenthood</text></g>
<g id="ha-12" class="lf"><rect x="202" y="585" width="33" height="6" rx="1.5"/><text x="218.5" y="589.4">Touro University</text></g>
<g id="ha-13" class="lf"><rect x="107" y="596" width="31" height="6" rx="1.5"/><text x="122.5" y="600.4">Sutter Health</text></g>
<g id="ha-14" class="lf"><rect x="111" y="604" width="36" height="11" rx="1.5"/><text x="129" y="608.6">Community<tspan x="129" dy="4.6">Medical Centers</tspan></text></g>
<g id="ha-15" class="lf bk"><rect x="168" y="605" width="33" height="11" rx="1.5"/><text x="184.5" y="609.6">Solano Coalition<tspan x="184.5" dy="4.6">for Better Health</tspan></text></g>
<g id="ha-16" class="lf"><rect x="203" y="596" width="28" height="15" rx="1.5"/><text x="217" y="600.3">Solano County<tspan x="217" dy="4.6">Office of</tspan><tspan x="217" dy="4.6">Education</tspan></text></g>
<g id="ha-17" class="lf"><rect x="135" y="618" width="40" height="6" rx="1.5"/><text x="155" y="622.4">Kaiser Permanente</text></g>

<g id="mb-1" class="lf bk"><rect x="361" y="531" width="11" height="6" rx="1.5"/><text x="366.5" y="535.4">NAMI</text></g>
<g id="mb-2" class="lf"><rect x="362" y="540" width="14" height="6" rx="1.5"/><text x="369" y="544.4">Seneca</text></g>
<g id="mb-3" class="lf hl"><rect x="364" y="550" width="15" height="6" rx="1.5"/><text x="371.5" y="554.4">Caminar</text></g>
<g id="mb-4" class="lf hl"><rect x="367" y="558" width="18" height="10" rx="1.5"/><text x="376" y="562.1">Vacaville<tspan x="376" dy="4.6">Police</tspan></text></g>
<g id="mb-5" class="lf"><rect x="355" y="569" width="34" height="11" rx="1.5"/><text x="372" y="573.6">Solano County<tspan x="372" dy="4.6">Mental Health</tspan></text></g>
<g id="mb-6" class="lf"><rect x="349" y="584" width="30" height="14" rx="1.5"/><text x="364" y="587.8">Children's<tspan x="364" dy="4.6">Nurturing</tspan><tspan x="364" dy="4.6">Project (CNP)</tspan></text></g>
<g id="mb-7" class="lf"><rect x="333" y="600" width="34" height="15" rx="1.5"/><text x="350" y="604.3">Catholic Social<tspan x="350" dy="4.6">Service of</tspan><tspan x="350" dy="4.6">Solano County</tspan></text></g>
<g id="mb-8" class="lf hl"><rect x="315" y="618" width="29" height="9" rx="1.5"/><text x="329.5" y="621.6">North Bay<tspan x="329.5" dy="4.6">Regional Center</tspan></text></g>
<g id="mb-9" class="lf"><rect x="297" y="630" width="24" height="15" rx="1.5"/><text x="309" y="634.3">CRS<tspan x="309" dy="4.6">Families</tspan><tspan x="309" dy="4.6">First</tspan></text></g>
<g id="mb-10" class="lf hl"><rect x="278" y="621" width="29" height="6" rx="1.5"/><text x="292.5" y="625.4">Rio Vista Care</text></g>
<g id="mb-11" class="lf"><rect x="267" y="544" width="18" height="10" rx="1.5"/><text x="276" y="548.1">School<tspan x="276" dy="4.6">Districts</tspan></text></g>
<g id="mb-12" class="lf"><rect x="262" y="556" width="17" height="10" rx="1.5"/><text x="270.5" y="560.1">Child<tspan x="270.5" dy="4.6">Haven</tspan></text></g>
<g id="mb-13" class="lf"><rect x="255" y="569" width="28" height="10" rx="1.5"/><text x="269" y="573.1">Kaiser<tspan x="269" dy="4.6">Permanente</tspan></text></g>
<g id="mb-14" class="lf"><rect x="251" y="582" width="35" height="15" rx="1.5"/><text x="268.5" y="586.3">Aldea Children<tspan x="268.5" dy="4.6">&amp; Family</tspan><tspan x="268.5" dy="4.6">Services</tspan></text></g>
<g id="mb-15" class="lf"><rect x="260" y="602" width="35" height="15" rx="1.5"/><text x="277.5" y="606.3">Solano County<tspan x="277.5" dy="4.6">Health &amp; Social</tspan><tspan x="277.5" dy="4.6">Services</tspan></text></g>

<g id="sa-1" class="lf hl"><rect x="389" y="536" width="26" height="6" rx="1.5"/><text x="402" y="540.4">Bi-Bett House</text></g>
<g id="sa-2" class="lf hl"><rect x="387" y="544" width="28" height="6" rx="1.5"/><text x="401" y="548.4">Genesis House</text></g>
<g id="sa-3" class="lf"><rect x="389" y="552" width="28" height="10" rx="1.5"/><text x="403" y="556.1">SC Behavioral<tspan x="403" dy="4.6">Health</tspan></text></g>
<g id="sa-4" class="lf bk"><rect x="399" y="566" width="21" height="6" rx="1.5"/><text x="409.5" y="570.4">Pharmacies</text></g>
<g id="sa-5" class="lf"><rect x="406" y="574" width="27" height="10" rx="1.5"/><text x="419.5" y="578.1">Kaiser<tspan x="419.5" dy="4.6">Permanente</tspan></text></g>
<g id="sa-6" class="lf"><rect x="421" y="586" width="25" height="10" rx="1.5"/><text x="433.5" y="590.1">NorthBay<tspan x="433.5" dy="4.6">Healthcare</tspan></text></g>
<g id="sa-7" class="lf"><rect x="445" y="596" width="32" height="10" rx="1.5"/><text x="461" y="600.1">Healthy<tspan x="461" dy="4.6">Partnerships</tspan></text></g>
<g id="sa-8" class="lf hl"><rect x="479" y="596" width="24" height="10" rx="1.5"/><text x="491" y="600.1">Partnership<tspan x="491" dy="4.6">Health Plan</tspan></text></g>
<g id="sa-9" class="lf"><rect x="489" y="580" width="26" height="14" rx="1.5"/><text x="502" y="583.8">Aldea<tspan x="502" dy="4.6">Behavioral</tspan><tspan x="502" dy="4.6">Health</tspan></text></g>
<g id="sa-10" class="lf"><rect x="497" y="572" width="15" height="6" rx="1.5"/><text x="504.5" y="576.4">Seneca</text></g>
<g id="sa-11" class="lf"><rect x="499" y="564" width="11" height="6" rx="1.5"/><text x="504.5" y="568.4">FRCs</text></g>
<g id="sa-12" class="lf"><rect x="493" y="557" width="27" height="6" rx="1.5"/><text x="506.5" y="561.4">Public Schools</text></g>
<g id="sa-13" class="lf"><rect x="493" y="544" width="27" height="10" rx="1.5"/><text x="506.5" y="548.1">Alcoholics<tspan x="506.5" dy="4.6">Anonymous</tspan></text></g>
<g id="sa-14" class="lf"><rect x="488" y="536" width="33" height="6" rx="1.5"/><text x="504.5" y="540.4">Recovery Centers</text></g>
<g id="sa-15" class="lf hl"><rect x="493" y="528" width="19" height="6" rx="1.5"/><text x="502.5" y="532.4">Probation</text></g>

<g id="fc-1" class="lf"><rect x="600" y="393" width="30" height="11" rx="1.5"/><text x="615" y="397.6">Solano County<tspan x="615" dy="4.6">Child Welfare</tspan></text></g>
<g id="fc-2" class="lf"><rect x="635" y="382" width="23" height="15" rx="1.5"/><text x="646.5" y="386.3">Solano County<tspan x="646.5" dy="4.6">Office of</tspan><tspan x="646.5" dy="4.6">Education</tspan></text></g>
<g id="fc-3" class="lf"><rect x="669" y="381" width="23" height="15" rx="1.5"/><text x="680.5" y="385.3">Transitional<tspan x="680.5" dy="4.6">Age Youth</tspan><tspan x="680.5" dy="4.6">Providers</tspan></text></g>
<g id="fc-4" class="lf"><rect x="699" y="383" width="23" height="11" rx="1.5"/><text x="710.5" y="387.6">Foster Family<tspan x="710.5" dy="4.6">Agencies</tspan></text></g>
<g id="fc-5" class="lf"><rect x="733" y="391" width="31" height="11" rx="1.5"/><text x="748.5" y="395.6">Solano Comm<tspan x="748.5" dy="4.6">College</tspan></text></g>
<g id="fc-6" class="lf hl"><rect x="601" y="408" width="21" height="10" rx="1.5"/><text x="611.5" y="412.1">Parents by<tspan x="611.5" dy="4.6">Choice</tspan></text></g>
<g id="fc-7" class="lf"><rect x="735" y="407" width="35" height="11" rx="1.5"/><text x="752.5" y="411.6">SC Foster Kinship<tspan x="752.5" dy="4.6">Ed Program</tspan></text></g>
<g id="fc-8" class="lf"><rect x="615" y="422" width="27" height="11" rx="1.5"/><text x="628.5" y="426.6">First Place<tspan x="628.5" dy="4.6">for Youth</tspan></text></g>
<g id="fc-9" class="lf"><rect x="690" y="422" width="54" height="11" rx="1.5"/><text x="717" y="426.6">Foster Greatness (&amp; other<tspan x="717" dy="4.6">non-profits)</tspan></text></g>

<g id="le-1" class="lf bk"><rect x="752" y="440" width="25" height="6" rx="1.5"/><text x="764.5" y="444.4">Juvenile Hall</text></g>
<g id="le-2" class="lf"><rect x="785" y="439" width="51" height="6" rx="1.5"/><text x="810.5" y="443.4">Solano County Probation</text></g>
<g id="le-3" class="lf"><rect x="845" y="439" width="46" height="6" rx="1.5"/><text x="868" y="443.4">Solano Sheriffs office</text></g>
<g id="le-4" class="lf"><rect x="863" y="448" width="34" height="6" rx="1.5"/><text x="880" y="452.4">Local Police Depts</text></g>
<g id="le-5" class="lf"><rect x="864" y="459" width="44" height="6" rx="1.5"/><text x="886" y="463.4">Solano Juvenile court</text></g>
<g id="le-6" class="lf"><rect x="864" y="471" width="42" height="6" rx="1.5"/><text x="885" y="475.4">Solano Family Court</text></g>
<g id="le-7" class="lf"><rect x="739" y="449" width="23" height="6" rx="1.5"/><text x="750.5" y="453.4">DA's Office</text></g>
<g id="le-8" class="lf"><rect x="747" y="459" width="13" height="6" rx="1.5"/><text x="753.5" y="463.4">SRPD</text></g>
<g id="le-9" class="lf"><rect x="747" y="470" width="12" height="6" rx="1.5"/><text x="753" y="474.4">FPD</text></g>
<g id="le-10" class="lf"><rect x="745" y="480" width="17" height="6" rx="1.5"/><text x="753.5" y="484.4">VCUSD</text></g>
<g id="le-11" class="lf"><rect x="767" y="481" width="23" height="10" rx="1.5"/><text x="778.5" y="485.1">Community<tspan x="778.5" dy="4.6">Day School</tspan></text></g>
<g id="le-12" class="lf"><rect x="797" y="479" width="33" height="10" rx="1.5"/><text x="813.5" y="483.1">Day Reporting<tspan x="813.5" dy="4.6">Centers</tspan></text></g>
<g id="le-13" class="lf"><rect x="836" y="480" width="41" height="11" rx="1.5"/><text x="856.5" y="484.6">Diversion Program<tspan x="856.5" dy="4.6">Providers</tspan></text></g>

<g id="cw-1" class="lf"><rect x="811" y="499" width="46" height="18" rx="1.5"/><text x="834" y="502.5">Children's Nurturing<tspan x="834" dy="4.6">Project (CNP)-</tspan><tspan x="834" dy="4.6">CAPP (child assault</tspan><tspan x="834" dy="4.6">prevention program)</tspan></text></g>
<g id="cw-2" class="lf"><rect x="867" y="502" width="37" height="10" rx="1.5"/><text x="885.5" y="506.1">Solano Partnership<tspan x="885.5" dy="4.6">Against Violence</tspan></text></g>
<g id="cw-3" class="lf"><rect x="915" y="501" width="33" height="16" rx="1.5"/><text x="931.5" y="505.8">Solano Office of<tspan x="931.5" dy="4.6">Family Violence</tspan><tspan x="931.5" dy="4.6">Prevention</tspan></text></g>
<g id="cw-4" class="lf"><rect x="803" y="519" width="10" height="6" rx="1.5"/><text x="808" y="523.4">FRCs</text></g>
<g id="cw-5" class="lf"><rect x="803" y="528" width="10" height="6" rx="1.5"/><text x="808" y="532.4">PEAK</text></g>
<g id="cw-6" class="lf"><rect x="803" y="537" width="10" height="6" rx="1.5"/><text x="808" y="541.4">LINC</text></g>
<g id="cw-7" class="lf"><rect x="802" y="544" width="14" height="10" rx="1.5"/><text x="809" y="548.1">First 5<tspan x="809" dy="4.6">Solano</tspan></text></g>
<g id="cw-8" class="lf"><rect x="917" y="519" width="40" height="6" rx="1.5"/><text x="937" y="523.4">Solano County HSS</text></g>
<g id="cw-9" class="lf"><rect x="915" y="529" width="42" height="10" rx="1.5"/><text x="936" y="533.1">Solano County<tspan x="936" dy="4.6">Child Welfare Services</tspan></text></g>
<g id="cw-10" class="lf"><rect x="919" y="545" width="34" height="6" rx="1.5"/><text x="936" y="549.4">Baby First Solano</text></g>
<g id="cw-11" class="lf"><rect x="797" y="555" width="33" height="11" rx="1.5"/><text x="813.5" y="559.6">Quality Childcare<tspan x="813.5" dy="4.6">Providers</tspan></text></g>
<g id="cw-12" class="lf"><rect x="833" y="553" width="34" height="15" rx="1.5"/><text x="850" y="557.3">Solano Child<tspan x="850" dy="4.6">Abuse Prevention</tspan><tspan x="850" dy="4.6">Council</tspan></text></g>
<g id="cw-13" class="lf"><rect x="871" y="554" width="24" height="13" rx="1.5"/><text x="883" y="559.6">SafeQuest<tspan x="883" dy="4.6">Solano</tspan></text></g>
<g id="cw-14" class="lf"><rect x="899" y="554" width="24" height="15" rx="1.5"/><text x="911" y="558.3">Kaiser<tspan x="911" dy="4.6">Permanente</tspan><tspan x="911" dy="4.6">Vallejo</tspan></text></g>
<g id="cw-15" class="lf"><rect x="925" y="554" width="25" height="10" rx="1.5"/><text x="937.5" y="558.1">Children's<tspan x="937.5" dy="4.6">Alliance</tspan></text></g>

<g id="cs-1" class="lf"><rect x="663" y="561" width="25" height="11" rx="1.5"/><text x="675.5" y="565.6">Salvation<tspan x="675.5" dy="4.6">Army</tspan></text></g>
<g id="cs-2" class="lf"><rect x="691" y="561" width="27" height="16" rx="1.5"/><text x="704.5" y="565.8">Faith-Based<tspan x="704.5" dy="4.6">Community</tspan><tspan x="704.5" dy="4.6">Providers</tspan></text></g>
<g id="cs-3" class="lf bk"><rect x="721" y="561" width="28" height="10" rx="1.5"/><text x="735" y="565.1">Fighting Back<tspan x="735" dy="4.6">Partnership</tspan></text></g>
<g id="cs-4" class="lf"><rect x="757" y="561" width="28" height="10" rx="1.5"/><text x="771" y="565.1">Solano Family<tspan x="771" dy="4.6">Justice Center</tspan></text></g>
<g id="cs-5" class="lf"><rect x="622" y="575" width="50" height="10" rx="1.5"/><text x="647" y="579.1">Mothers Against Drunk<tspan x="647" dy="4.6">Driving (MADD/SADD)</tspan></text></g>
<g id="cs-6" class="lf"><rect x="757" y="577" width="46" height="6" rx="1.5"/><text x="780" y="581.4">Solano Sheriffs office</text></g>
<g id="cs-7" class="lf"><rect x="766" y="587" width="36" height="6" rx="1.5"/><text x="784" y="591.4">Local Police Depts</text></g>
<g id="cs-8" class="lf bk"><rect x="620" y="587" width="31" height="10" rx="1.5"/><text x="635.5" y="591.1">Vallejo Youth<tspan x="635.5" dy="4.6">Roundtable</tspan></text></g>
<g id="cs-9" class="lf"><rect x="775" y="596" width="28" height="11" rx="1.5"/><text x="789" y="600.6">Child Welfare<tspan x="789" dy="4.6">Department</tspan></text></g>
<g id="cs-10" class="lf"><rect x="621" y="601" width="25" height="10" rx="1.5"/><text x="633.5" y="605.1">Auto Safety<tspan x="633.5" dy="4.6">Providers</tspan></text></g>
<g id="cs-11" class="lf"><rect x="771" y="609" width="33" height="10" rx="1.5"/><text x="787.5" y="613.1">12 Week Batterer<tspan x="787.5" dy="4.6">Training</tspan></text></g>
<g id="cs-12" class="lf bk"><rect x="635" y="615" width="20" height="11" rx="1.5"/><text x="645" y="619.6">Leaven<tspan x="645" dy="4.6">Project</tspan></text></g>
<g id="cs-13" class="lf"><rect x="661" y="617" width="35" height="14" rx="1.5"/><text x="678.5" y="620.8">Police Activities<tspan x="678.5" dy="4.6">League</tspan><tspan x="678.5" dy="4.6">(PAL)</tspan></text></g>
<g id="cs-14" class="lf"><rect x="699" y="617" width="26" height="10" rx="1.5"/><text x="712" y="621.1">SafeQuest<tspan x="712" dy="4.6">Solano</tspan></text></g>
<g id="cs-15" class="lf"><rect x="727" y="617" width="28" height="10" rx="1.5"/><text x="741" y="621.1">Home Visiting<tspan x="741" dy="4.6">Programs</tspan></text></g>
<g id="cs-16" class="lf"><rect x="760" y="619" width="11" height="6" rx="1.5"/><text x="765.5" y="623.4">LINC</text></g>
</svg>
